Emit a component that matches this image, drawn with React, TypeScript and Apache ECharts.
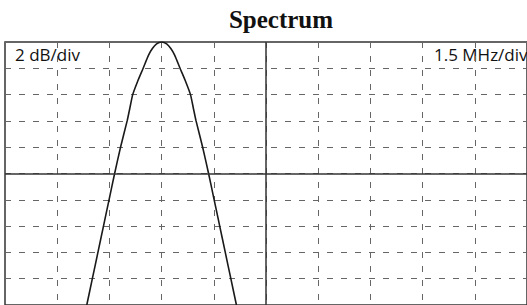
import React, { useEffect, useRef } from "react";
import * as echarts from "echarts";

// Frequency in MHz (center of screen = 0), level in dB (top of screen = 0 dB)
const freqMHz = [
  -5.15, -4.99, -4.83, -4.67, -4.51, -4.35, -4.18, -3.99, -3.91, -3.83, -3.69, -3.53,
  -3.375, -3.265, -3.145,
  -3.0,
  -2.855, -2.735, -2.625, -2.47, -2.31, -2.17, -2.09, -2.01, -1.82, -1.65, -1.49,
  -1.33, -1.17, -1.01, -0.85,
];
const levelDb = [
  -20, -18, -16, -14, -12, -10, -8, -6, -5, -4, -3, -2,
  -1, -0.5, -0.15,
  0,
  -0.15, -0.5, -1, -2, -3, -4, -5, -6, -8, -10, -12,
  -14, -16, -18, -20,
];

const titleText = "Spectrum";
const ampScaleText = "2 dB/div";
const freqScaleText = "1.5 MHz/div";

export default function App() {
  const ref = useRef<HTMLDivElement>(null);
  useEffect(() => {
    if (!ref.current) return;
    const chart = echarts.init(ref.current, undefined, { renderer: "svg" });
    const data = freqMHz.map((f, i) => [f, levelDb[i]]);
    chart.setOption({
      animation: false,
      backgroundColor: "#ffffff",
      title: {
        text: titleText,
        left: 276,
        top: 2,
        textAlign: "center",
        textStyle: {
          fontFamily: "Liberation Serif",
          fontWeight: "bold",
          fontSize: 25,
          color: "#111",
        },
      },
      grid: {
        left: 5,
        top: 42,
        width: 530,
        height: 266,
        show: true,
        borderColor: "#333",
        borderWidth: 1.5,
        backgroundColor: "transparent",
      },
      xAxis: {
        type: "value",
        min: -7.5,
        max: 7.5,
        interval: 1.5,
        axisLine: { show: false },
        axisTick: { show: false },
        axisLabel: { show: false },
        splitLine: { show: true, lineStyle: { color: "#666", type: [6, 8], width: 1 } },
      },
      yAxis: {
        type: "value",
        min: -20,
        max: 0,
        interval: 2,
        axisLine: { show: false },
        axisTick: { show: false },
        axisLabel: { show: false },
        splitLine: { show: true, lineStyle: { color: "#666", type: [6, 8], width: 1 } },
      },
      graphic: [
        {
          type: "text",
          left: 15,
          top: 46,
          style: {
            text: ampScaleText,
            fontFamily: "Open Sans",
            fontSize: 17,
            fill: "#111",
          },
        },
        {
          type: "text",
          left: 434,
          top: 46,
          style: {
            text: freqScaleText,
            fontFamily: "Open Sans",
            fontSize: 17,
            fill: "#111",
          },
        },
      ],
      series: [
        {
          type: "line",
          data,
          smooth: 0.2,
          showSymbol: false,
          symbol: "none",
          lineStyle: { color: "#1a1a1a", width: 1.6 },
          markLine: {
            silent: true,
            symbol: "none",
            label: { show: false },
            lineStyle: { type: "solid", color: "#333", width: 1.5 },
            data: [{ xAxis: 0 }, { yAxis: -10 }],
          },
        },
      ],
    });
    return () => chart.dispose();
  }, []);
  return (
    <div
      ref={ref}
      style={{ position: "absolute", left: 0, top: 0, width: 527, height: 305 }}
    />
  );
}
